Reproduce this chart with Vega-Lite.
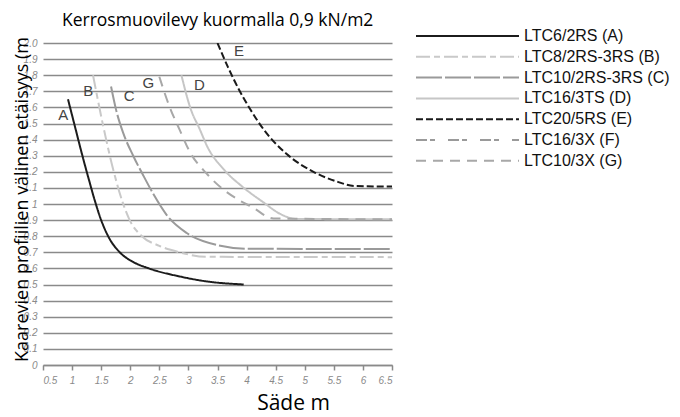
{
  "$schema": "https://vega.github.io/schema/vega-lite/v6.json",
  "autosize": {"type": "none"},
  "width": 349,
  "height": 322,
  "padding": {"left": 43, "top": 43, "right": 288, "bottom": 52},
  "background": "white",
  "title": {
    "text": "Kerrosmuovilevy kuormalla 0,9 kN/m2",
    "anchor": "start",
    "frame": "group",
    "dx": 19,
    "offset": -15,
    "baseline": "alphabetic",
    "font": "Open Sans",
    "fontSize": 17.5,
    "fontWeight": "normal",
    "color": "#000000"
  },
  "config": {
    "view": {"stroke": null},
    "axis": {"labelFont": "Liberation Sans", "labelFontStyle": "italic", "labelColor": "#8a8a8a", "labelFontSize": 10, "titleFont": "Open Sans", "titleFontSize": 17, "titleFontWeight": "normal", "titleColor": "#000000"}
  },
  "datasets": {
    "curves": [
      {"series": "LTC6/2RS (A)", "x": 0.93, "y": 1.65},
      {"series": "LTC6/2RS (A)", "x": 1.05, "y": 1.48},
      {"series": "LTC6/2RS (A)", "x": 1.17, "y": 1.31},
      {"series": "LTC6/2RS (A)", "x": 1.29, "y": 1.15},
      {"series": "LTC6/2RS (A)", "x": 1.4, "y": 1.01},
      {"series": "LTC6/2RS (A)", "x": 1.5, "y": 0.9},
      {"series": "LTC6/2RS (A)", "x": 1.62, "y": 0.8},
      {"series": "LTC6/2RS (A)", "x": 1.82, "y": 0.7},
      {"series": "LTC6/2RS (A)", "x": 2.05, "y": 0.64},
      {"series": "LTC6/2RS (A)", "x": 2.32, "y": 0.6},
      {"series": "LTC6/2RS (A)", "x": 2.85, "y": 0.55},
      {"series": "LTC6/2RS (A)", "x": 3.3, "y": 0.52},
      {"series": "LTC6/2RS (A)", "x": 3.95, "y": 0.5},
      {"series": "LTC8/2RS-3RS (B)", "x": 1.36, "y": 1.8},
      {"series": "LTC8/2RS-3RS (B)", "x": 1.52, "y": 1.51},
      {"series": "LTC8/2RS-3RS (B)", "x": 1.71, "y": 1.21},
      {"series": "LTC8/2RS-3RS (B)", "x": 1.87, "y": 1.01},
      {"series": "LTC8/2RS-3RS (B)", "x": 1.99, "y": 0.9},
      {"series": "LTC8/2RS-3RS (B)", "x": 2.2, "y": 0.8},
      {"series": "LTC8/2RS-3RS (B)", "x": 2.5, "y": 0.74},
      {"series": "LTC8/2RS-3RS (B)", "x": 2.85, "y": 0.7},
      {"series": "LTC8/2RS-3RS (B)", "x": 3.3, "y": 0.672},
      {"series": "LTC8/2RS-3RS (B)", "x": 6.5, "y": 0.67},
      {"series": "LTC10/2RS-3RS (C)", "x": 1.67, "y": 1.73},
      {"series": "LTC10/2RS-3RS (C)", "x": 1.76, "y": 1.58},
      {"series": "LTC10/2RS-3RS (C)", "x": 1.88, "y": 1.44},
      {"series": "LTC10/2RS-3RS (C)", "x": 2.05, "y": 1.3},
      {"series": "LTC10/2RS-3RS (C)", "x": 2.22, "y": 1.18},
      {"series": "LTC10/2RS-3RS (C)", "x": 2.4, "y": 1.06},
      {"series": "LTC10/2RS-3RS (C)", "x": 2.63, "y": 0.93},
      {"series": "LTC10/2RS-3RS (C)", "x": 2.97, "y": 0.82},
      {"series": "LTC10/2RS-3RS (C)", "x": 3.49, "y": 0.745},
      {"series": "LTC10/2RS-3RS (C)", "x": 4.0, "y": 0.722},
      {"series": "LTC10/2RS-3RS (C)", "x": 6.5, "y": 0.72},
      {"series": "LTC16/3TS (D)", "x": 2.88, "y": 1.8},
      {"series": "LTC16/3TS (D)", "x": 3.03, "y": 1.6},
      {"series": "LTC16/3TS (D)", "x": 3.2, "y": 1.46},
      {"series": "LTC16/3TS (D)", "x": 3.32, "y": 1.36},
      {"series": "LTC16/3TS (D)", "x": 3.62, "y": 1.21},
      {"series": "LTC16/3TS (D)", "x": 3.92, "y": 1.11},
      {"series": "LTC16/3TS (D)", "x": 4.29, "y": 1.01},
      {"series": "LTC16/3TS (D)", "x": 4.57, "y": 0.94},
      {"series": "LTC16/3TS (D)", "x": 4.85, "y": 0.907},
      {"series": "LTC16/3TS (D)", "x": 6.5, "y": 0.905},
      {"series": "LTC20/5RS (E)", "x": 3.5, "y": 2.0},
      {"series": "LTC20/5RS (E)", "x": 3.68, "y": 1.85},
      {"series": "LTC20/5RS (E)", "x": 3.87, "y": 1.71},
      {"series": "LTC20/5RS (E)", "x": 4.06, "y": 1.59},
      {"series": "LTC20/5RS (E)", "x": 4.3, "y": 1.46},
      {"series": "LTC20/5RS (E)", "x": 4.69, "y": 1.31},
      {"series": "LTC20/5RS (E)", "x": 5.15, "y": 1.2},
      {"series": "LTC20/5RS (E)", "x": 5.55, "y": 1.14},
      {"series": "LTC20/5RS (E)", "x": 5.85, "y": 1.112},
      {"series": "LTC20/5RS (E)", "x": 6.5, "y": 1.108},
      {"series": "LTC10/3X (G)", "x": 2.5, "y": 1.79},
      {"series": "LTC10/3X (G)", "x": 2.68, "y": 1.6},
      {"series": "LTC10/3X (G)", "x": 2.85, "y": 1.46},
      {"series": "LTC10/3X (G)", "x": 3.03, "y": 1.32},
      {"series": "LTC10/3X (G)", "x": 3.31, "y": 1.19},
      {"series": "LTC10/3X (G)", "x": 3.6, "y": 1.09},
      {"series": "LTC10/3X (G)", "x": 3.89, "y": 1.02},
      {"series": "LTC10/3X (G)", "x": 4.1, "y": 0.98},
      {"series": "LTC10/3X (G)", "x": 4.46, "y": 0.91},
      {"series": "LTC10/3X (G)", "x": 6.5, "y": 0.905}
    ],
    "labels": [
      {"label": "A", "x": 0.85, "y": 1.55},
      {"label": "B", "x": 1.28, "y": 1.7},
      {"label": "C", "x": 1.98, "y": 1.67},
      {"label": "G", "x": 2.31, "y": 1.75},
      {"label": "D", "x": 3.19, "y": 1.74},
      {"label": "E", "x": 3.87, "y": 1.95}
    ]
  },
  "layer": [
    {
      "data": {"name": "curves"},
      "mark": {"type": "line", "interpolate": "monotone", "strokeWidth": 2, "clip": true},
      "encoding": {
        "x": {
          "field": "x", "type": "quantitative",
          "scale": {"domain": [0.5, 6.5], "nice": false, "zero": false},
          "axis": {
            "title": "Säde m",
            "titleFontSize": 21,
            "titleX": 250, "titleY": 38, "titleAlign": "center", "titleBaseline": "middle",
            "values": [0.5, 1, 1.5, 2, 2.5, 3, 3.5, 4, 4.5, 5, 5.5, 6, 6.5],
            "tickCount": 20,
            "format": "~g",
            "labelOverlap": false,
            "grid": false,
            "domain": true, "domainColor": "#8a8a8a", "domainWidth": 1.5,
            "ticks": true, "tickColor": "#8a8a8a", "tickWidth": 1.5, "tickSize": 5,
            "labelPadding": 5
          }
        },
        "y": {
          "field": "y", "type": "quantitative",
          "scale": {"domain": [0, 2], "nice": false},
          "axis": {
            "title": "Kaarevien profiilien välinen etäisyys (m",
            "titleFontSize": 18,
            "titleAngle": -90, "titleX": -16, "titleY": 156, "titleAlign": "center", "titleBaseline": "alphabetic",
            "values": [0, 0.1, 0.2, 0.3, 0.4, 0.5, 0.6, 0.7, 0.8, 0.9, 1, 1.1, 1.2, 1.3, 1.4, 1.5, 1.6, 1.7, 1.8, 1.9, 2],
            "tickCount": 30,
            "labelOverlap": false,
            "labelExpr": "datum.value == 2 ? '2.0' : format(datum.value, '~g')",
            "grid": true, "gridColor": "#8a8a8a", "gridWidth": 1.5,
            "domain": false, "ticks": false, "labelPadding": 6
          }
        },
        "color": {
          "field": "series", "type": "nominal",
          "scale": {
            "domain": ["LTC6/2RS (A)", "LTC8/2RS-3RS (B)", "LTC10/2RS-3RS (C)", "LTC16/3TS (D)", "LTC20/5RS (E)", "LTC16/3X (F)", "LTC10/3X (G)"],
            "range": ["#1c1c1c", "#c9c9c9", "#9a9a9a", "#c6c6c6", "#1a1a1a", "#9a9a9a", "#a8a8a8"]
          },
          "legend": {
            "title": null,
            "orient": "none", "legendX": 372, "legendY": -15,
            "symbolType": "stroke", "symbolSize": 10609, "symbolStrokeWidth": 2,
            "clipHeight": 16, "rowPadding": 4.8, "labelOffset": 4,
            "labelFont": "Liberation Sans", "labelFontSize": 16, "labelColor": "#111111", "labelLimit": 300
          }
        },
        "strokeDash": {
          "field": "series", "type": "nominal",
          "scale": {
            "domain": ["LTC6/2RS (A)", "LTC8/2RS-3RS (B)", "LTC10/2RS-3RS (C)", "LTC16/3TS (D)", "LTC20/5RS (E)", "LTC16/3X (F)", "LTC10/3X (G)"],
            "range": [[1, 0], [14, 4, 6, 4], [26, 3], [1, 0], [7, 3], [11, 3, 5, 13], [10, 7]]
          }
        },
        "order": {"field": "x", "type": "quantitative"}
      }
    },
    {
      "data": {"name": "labels"},
      "mark": {"type": "text", "font": "Liberation Sans", "fontSize": 15, "color": "#444444", "align": "center", "baseline": "middle"},
      "encoding": {
        "x": {"field": "x", "type": "quantitative"},
        "y": {"field": "y", "type": "quantitative"},
        "text": {"field": "label", "type": "nominal"}
      }
    }
  ]
}
